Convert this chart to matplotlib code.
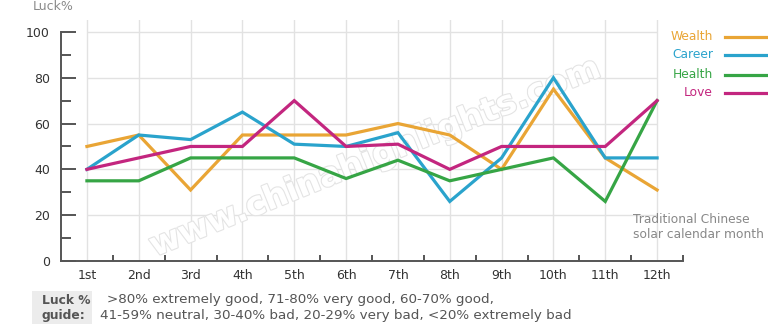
import matplotlib
matplotlib.use("Agg")
import matplotlib.pyplot as plt
from matplotlib.lines import Line2D
from matplotlib.patches import Rectangle
from matplotlib.ticker import FixedLocator, NullFormatter
import matplotlib.patheffects as pe

months = ["1st", "2nd", "3rd", "4th", "5th", "6th", "7th", "8th", "9th", "10th", "11th", "12th"]
wealth = [50, 55, 31, 55, 55, 55, 60, 55, 40, 75, 45, 31]
career = [40, 55, 53, 65, 51, 50, 56, 26, 45, 80, 45, 45]
health = [35, 35, 45, 45, 45, 36, 44, 35, 40, 45, 26, 70]
love = [40, 45, 50, 50, 70, 50, 51, 40, 50, 50, 50, 70]
series_names = ["Wealth", "Career", "Health", "Love"]
colors = ["#E9A535", "#2AA3CC", "#36A545", "#C3267F"]

W, H = 768, 330
fig = plt.figure(figsize=(W / 100, H / 100), dpi=100)
ax = fig.add_axes([61 / W, 1 - 261 / H, (683 - 61) / W, (261 - 20) / H])

x = list(range(1, 13))
ax.set_xlim(0.5, 12.5)
ax.set_ylim(0, 105.2)

# grid
grid_c = "#e2e2e2"
for xi in x:
    ax.axvline(xi, color=grid_c, lw=1, zorder=0)
ax.hlines([20, 40, 60, 80, 100], 1, 12, color=grid_c, lw=1, zorder=0)

# watermark
ax.text(0.505, 0.43, "www.chinahighlights.com", transform=ax.transAxes,
        rotation=22, ha="center", va="center", fontsize=24, fontweight="bold",
        color="#ffffff", zorder=1,
        path_effects=[pe.withStroke(linewidth=1.6, foreground="#e4e4e4")])

for vals, c in zip([wealth, career, health, love], colors):
    ax.plot(x, vals, color=c, lw=2.3, zorder=3, solid_joinstyle="miter")

for s in ["top", "right"]:
    ax.spines[s].set_visible(False)
spine_c = "#555555"
ax.spines["left"].set_bounds(0, 100)
ax.spines["left"].set_color(spine_c)
ax.spines["bottom"].set_color(spine_c)
ax.spines["left"].set_linewidth(1.4)
ax.spines["bottom"].set_linewidth(1.4)

ax.set_yticks([0, 20, 40, 60, 80, 100])
ax.yaxis.set_minor_locator(FixedLocator([10, 30, 50, 70, 90]))
ax.tick_params(axis="y", which="major", direction="in", length=11, width=1.4,
               color=spine_c, labelsize=9, labelcolor="#333333", pad=8)
ax.tick_params(axis="y", which="minor", direction="in", length=7, width=1.4, color=spine_c)

ax.set_xticks(x)
ax.set_xticklabels(months)
ax.xaxis.set_minor_locator(FixedLocator([i + 0.5 for i in range(1, 13)]))
ax.xaxis.set_minor_formatter(NullFormatter())
ax.tick_params(axis="x", which="major", length=0, labelsize=9, labelcolor="#333333", pad=6)
ax.tick_params(axis="x", which="minor", direction="in", length=4.5, width=1.4, color=spine_c)

# axis captions
fig.text(33 / W, 1 - 7 / H, "Luck%", fontsize=9, color="#8a8a8a", ha="left", va="center")
fig.text(633 / W, 1 - 227 / H, "Traditional Chinese\nsolar calendar month", fontsize=8.8,
         color="#888888", ha="left", va="center", linespacing=1.25)

# legend
leg_y = [37, 55, 75, 93]
for name, c, yy in zip(series_names, colors, leg_y):
    fig.text(713 / W, 1 - yy / H, name, fontsize=8.8, color=c, ha="right", va="center")
    fig.add_artist(Line2D([725 / W, 768 / W], [1 - yy / H, 1 - yy / H], color=c, lw=2.3,
                          transform=fig.transFigure))

# guide
fig.add_artist(Rectangle((32 / W, 1 - 324 / H), 60 / W, 33 / H, transform=fig.transFigure,
                         facecolor="#ececec", edgecolor="none"))
fig.text(42 / W, 1 - 300 / H, "Luck %", fontsize=8.8, fontweight="bold", color="#555555",
         ha="left", va="center")
fig.text(42 / W, 1 - 315 / H, "guide:", fontsize=8.8, fontweight="bold", color="#555555",
         ha="left", va="center")
fig.text(107 / W, 1 - 300 / H, ">80% extremely good, 71-80% very good, 60-70% good,",
         fontsize=9.7, color="#555555", ha="left", va="center")
fig.text(100 / W, 1 - 315 / H, "41-59% neutral, 30-40% bad, 20-29% very bad, <20% extremely bad",
         fontsize=9.7, color="#555555", ha="left", va="center")

fig.savefig("out.png", dpi=100)
